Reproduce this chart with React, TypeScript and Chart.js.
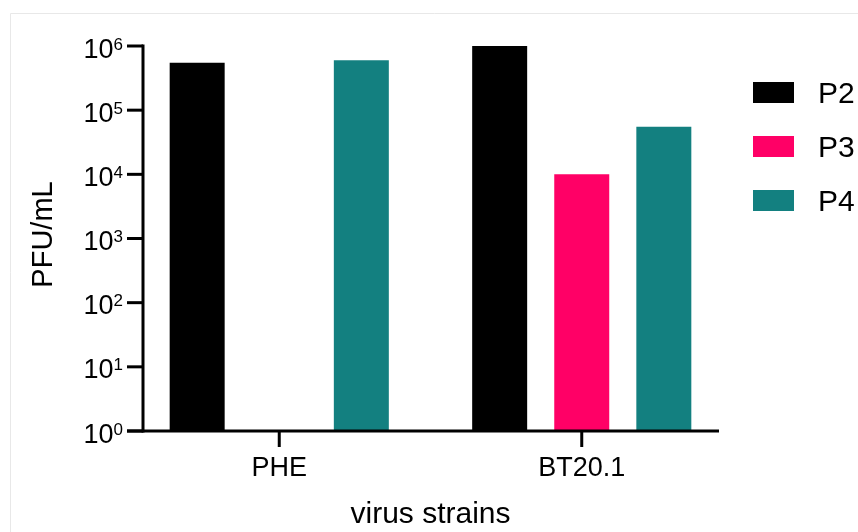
import React, { useEffect, useRef } from 'react';
import { Chart, registerables } from 'chart.js';

Chart.register(...registerables);

const categories = ['PHE', 'BT20.1'];
const seriesNames = ['P2', 'P3', 'P4'];
const p2Values = [5.5e5, 1e6];
const p3Values: (number | null)[] = [null, 1e4];
const p4Values = [6e5, 5.5e4];
const seriesColors = ['#000000', '#FF0066', '#138080'];
const yTickExponents = [0, 1, 2, 3, 4, 5, 6];
const yAxisTitle = 'PFU/mL';
const xAxisTitle = 'virus strains';

const FONT = '"Liberation Sans", Arial, Helvetica, sans-serif';

const decorPlugin = {
  id: 'decor',
  beforeDraw(chart: any) {
    const ctx = chart.ctx;
    ctx.save();
    ctx.fillStyle = '#ffffff';
    ctx.fillRect(0, 0, chart.width, chart.height);
    ctx.strokeStyle = '#e8e8e8';
    ctx.lineWidth = 1;
    ctx.beginPath();
    ctx.moveTo(10.5, chart.height);
    ctx.lineTo(10.5, 13.5);
    ctx.lineTo(chart.width, 13.5);
    ctx.stroke();
    ctx.restore();
  },
  afterDraw(chart: any) {
    const ctx = chart.ctx;
    const a = chart.chartArea;
    const xs = chart.scales.x;
    const ys = chart.scales.y;
    const axisX = a.left + 15;
    const axisY = ys.getPixelForValue(1);
    const topY = ys.getPixelForValue(1e6);
    ctx.save();
    ctx.strokeStyle = '#000';
    ctx.fillStyle = '#000';
    ctx.lineWidth = 3;
    ctx.lineCap = 'butt';
    // y axis
    ctx.beginPath();
    ctx.moveTo(axisX, topY - 1.5);
    ctx.lineTo(axisX, axisY + 1.5);
    ctx.stroke();
    // x axis
    ctx.beginPath();
    ctx.moveTo(axisX - 16, axisY);
    ctx.lineTo(a.right - 14, axisY);
    ctx.stroke();
    // y ticks + labels
    yTickExponents.forEach((e) => {
      const py = ys.getPixelForValue(Math.pow(10, e));
      ctx.beginPath();
      ctx.moveTo(axisX - 16, py);
      ctx.lineTo(axisX, py);
      ctx.stroke();
      ctx.textAlign = 'right';
      ctx.textBaseline = 'alphabetic';
      ctx.font = `17px ${FONT}`;
      const sup = String(e);
      const supW = ctx.measureText(sup).width;
      ctx.fillText(sup, axisX - 20, py + 3.5);
      ctx.font = `27px ${FONT}`;
      ctx.fillText('10', axisX - 20 - supW, py + 11.5);
    });
    // x ticks + labels
    categories.forEach((c, i) => {
      const px = xs.getPixelForValue(i);
      ctx.beginPath();
      ctx.moveTo(px, axisY);
      ctx.lineTo(px, axisY + 16);
      ctx.stroke();
      ctx.font = `27px ${FONT}`;
      ctx.textAlign = 'center';
      ctx.textBaseline = 'alphabetic';
      ctx.fillText(c, px, axisY + 45);
    });
    // x title
    ctx.font = `30px ${FONT}`;
    ctx.textAlign = 'center';
    ctx.fillText(xAxisTitle, (a.left + a.right) / 2, axisY + 92);
    // y title
    ctx.save();
    ctx.font = `29px ${FONT}`;
    ctx.translate(52, (topY + axisY) / 2 - 4);
    ctx.rotate(-Math.PI / 2);
    ctx.textAlign = 'center';
    ctx.textBaseline = 'alphabetic';
    ctx.fillText(yAxisTitle, 0, 0);
    ctx.restore();
    // legend
    seriesNames.forEach((name, i) => {
      const cy = 92.5 + i * 54;
      ctx.fillStyle = seriesColors[i];
      ctx.fillRect(a.right + 20, cy - 10.5, 41, 21);
      ctx.fillStyle = '#000';
      ctx.font = `30px ${FONT}`;
      ctx.textAlign = 'left';
      ctx.fillText(name, a.right + 85, cy + 10.5);
    });
    ctx.restore();
  },
};

export default function App() {
  const ref = useRef<HTMLCanvasElement | null>(null);
  useEffect(() => {
    document.body.style.margin = '0';
    const canvas = ref.current;
    if (!canvas) return;
    const seriesValues = [p2Values, p3Values, p4Values];
    const chart = new Chart(canvas, {
      type: 'bar',
      data: {
        labels: categories,
        datasets: seriesNames.map((name, i) => ({
          label: name,
          data: seriesValues[i] as any,
          backgroundColor: seriesColors[i],
          borderWidth: 0,
          categoryPercentage: 0.814,
          barPercentage: 0.67,
        })),
      },
      options: {
        animation: false,
        responsive: false,
        devicePixelRatio: 1,
        layout: { padding: { left: 128, right: 125, top: 46, bottom: 101 } },
        scales: {
          x: { type: 'category', display: false },
          y: { type: 'logarithmic', min: 1, max: 1e6, display: false },
        },
        plugins: {
          legend: { display: false },
          tooltip: { enabled: false },
        },
      },
      plugins: [decorPlugin],
    });
    return () => chart.destroy();
  }, []);
  return (
    <canvas
      ref={ref}
      width={858}
      height={532}
      style={{ display: 'block', width: 858, height: 532 }}
    />
  );
}
